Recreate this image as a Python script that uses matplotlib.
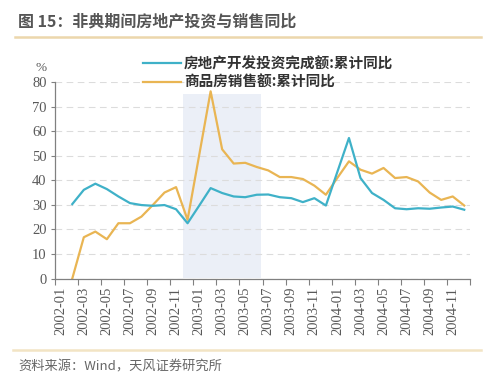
import numpy as np
import matplotlib.pyplot as plt
from matplotlib.lines import Line2D

plt.rcParams['font.family'] = ['Noto Sans CJK SC', 'DejaVu Sans']

# monthly categories 2002-01 .. 2004-12
months = [f"{y}-{m:02d}" for y in (2002, 2003, 2004) for m in range(1, 13)]

invest_yoy = [np.nan, 30.3, 36.1, 38.6, 36.4, 33.4, 30.7, 29.9, 29.6, 29.9, 28.2, 22.5,
              29.6, 36.8, 34.8, 33.4, 33.1, 34.1, 34.2, 33.1, 32.7, 31.1, 32.7, 29.7,
              43.5, 57.2, 40.9, 34.8, 32.0, 28.6, 28.2, 28.6, 28.4, 28.9, 29.3, 28.0]
sales_yoy = [np.nan, 0.0, 16.8, 19.1, 16.0, 22.5, 22.5, 25.2, 30.0, 35.0, 37.2, 23.9,
             50.0, 76.2, 52.6, 46.8, 47.1, 45.4, 44.0, 41.3, 41.3, 40.5, 37.8, 34.1,
             41.0, 47.7, 44.3, 42.7, 45.0, 40.9, 41.3, 39.5, 35.0, 32.0, 33.4, 29.7]

labels = ["房地产开发投资完成额:累计同比", "商品房销售额:累计同比"]
title = "图 15：非典期间房地产投资与销售同比"
source = "资料来源：Wind，天风证券研究所"

# SARS period shading (2002-12 .. 2003-06)
sars_first, sars_last, sars_top = "2002-12", "2003-06", 75

blue = "#3fb1c8"
gold = "#e9b553"
grey = "#595959"

fig = plt.figure(figsize=(4.99, 3.78), dpi=100)
ax = fig.add_axes([55 / 499, 1 - 278.5 / 378, 415 / 499, 196.5 / 378])

x = np.arange(len(months))
i0, i1 = months.index(sars_first), months.index(sars_last)
ax.fill_between([i0 - 0.43, i1 + 0.4], 0, sars_top, color="#ebeff7", lw=0, zorder=0)

ax.plot(x, invest_yoy, color=blue, lw=1.6, zorder=3)
ax.plot(x, sales_yoy, color=gold, lw=1.6, zorder=2)

ax.set_xlim(-0.5, len(months) - 0.5)
ax.set_ylim(0, 80)
ax.set_yticks(range(0, 81, 10))
ax.yaxis.grid(True, color="#dcdcdc", ls=(0, (6, 4)), lw=0.8)
ax.set_axisbelow(True)

ax.set_xticks(np.arange(-0.5, len(months), 2))
ax.set_xticklabels([])
ax.set_xticks(x[::2], minor=True)
ax.set_xticklabels(months[::2], minor=True, rotation=90,
                   family="Liberation Serif", fontsize=10.5, color=grey)
ax.tick_params(axis="x", which="major", length=4, color="#808080", direction="out")
ax.tick_params(axis="x", which="minor", length=0, pad=6)
ax.tick_params(axis="y", length=3, color="#808080", labelcolor=grey, pad=3)
for t in ax.get_yticklabels():
    t.set_family("Liberation Serif")
    t.set_fontsize(10.5)

for s in ("top", "right"):
    ax.spines[s].set_visible(False)
for s in ("left", "bottom"):
    ax.spines[s].set_color("#808080")
    ax.spines[s].set_linewidth(0.9)

fig.text(41 / 499, 1 - 68 / 378, "%", ha="center", va="center",
         fontsize=9.5, color=grey, family="Liberation Serif")

# legend drawn at top, overlapping the plot
for yy, col, lab in ((63, blue, labels[0]), (82, gold, labels[1])):
    fig.add_artist(Line2D([143 / 499, 181 / 499], [1 - yy / 378] * 2, color=col, lw=1.6))
    fig.text(184 / 499, 1 - yy / 378, lab, ha="left", va="center",
             fontsize=10.5, color="#333333", weight="bold")

fig.text(18 / 499, 1 - 21 / 378, title, ha="left", va="center",
         fontsize=11.5, weight="bold", color="#555555")
fig.add_artist(Line2D([15 / 499, 481 / 499], [1 - 37 / 378] * 2, color="#ecd7ac", lw=1.8))
fig.add_artist(Line2D([13 / 499, 481 / 499], [1 - 350 / 378] * 2, color="#f2e4c4", lw=1.8))
fig.text(18 / 499, 1 - 367 / 378, source, ha="left", va="center",
         fontsize=9.5, color="#666666")

fig.savefig("out.png", dpi=100)
